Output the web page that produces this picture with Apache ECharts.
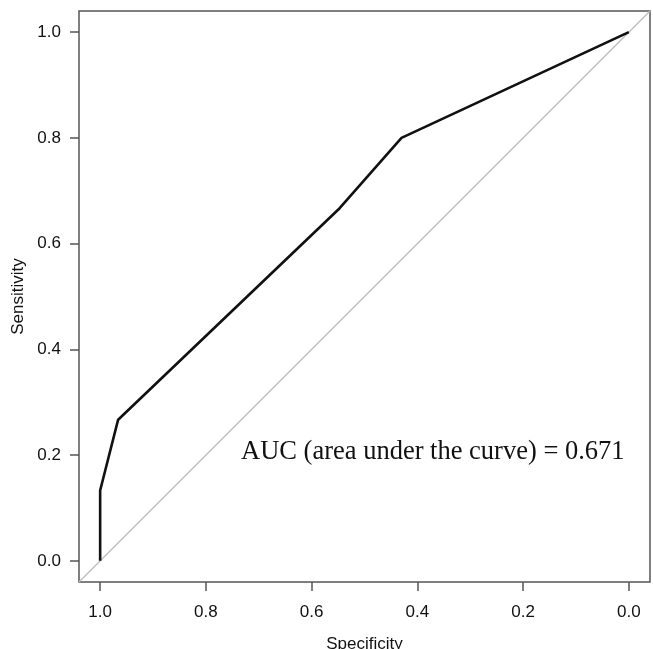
<!DOCTYPE html>
<html>
<head>
<meta charset="utf-8">
<script src="https://cdn.jsdelivr.net/npm/echarts@6/dist/echarts.min.js"></script>
<style>
  html, body { margin: 0; padding: 0; background: #fff; }
  #chart { width: 653px; height: 649px; }
</style>
</head>
<body>
<div id="chart"></div>
<script>
// ROC curve points (specificity, sensitivity)
var specificity = [1.0, 1.0, 0.966, 0.547, 0.43, 0.0];
var sensitivity = [0.0, 0.133, 0.267, 0.667, 0.8, 1.0];
// chance line
var refSpec = [1.04, -0.04];
var refSens = [-0.04, 1.04];
var ticks = [0, 0.2, 0.4, 0.6, 0.8, 1.0];
var aucText = "AUC (area under the curve) = 0.671";

var chart = echarts.init(document.getElementById("chart"));

function pairs(xs, ys) {
  return xs.map(function (x, i) { return [x, ys[i]]; });
}

var axisColor = "#555";
var labelFont = { color: "#111", fontSize: 17, fontFamily: "Liberation Sans, Arial, sans-serif" };

chart.setOption({
  animation: false,
  grid: {
    left: 79, right: 3, top: 11, bottom: 67,
    containLabel: false,
    outerBoundsMode: "none",
    show: true, borderColor: axisColor, borderWidth: 1.5,
    backgroundColor: "transparent"
  },
  xAxis: {
    type: "value",
    inverse: true,
    min: -0.04, max: 1.04,
    name: "Specificity",
    nameLocation: "middle",
    nameGap: 54,
    nameTextStyle: labelFont,
    axisLine: { show: false, onZero: false },
    splitLine: { show: false },
    axisTick: { show: true, customValues: ticks, length: 9, lineStyle: { color: axisColor, width: 1.5 } },
    axisLabel: Object.assign({ customValues: ticks, margin: 22, formatter: function (v) { return v.toFixed(1); } }, labelFont)
  },
  yAxis: {
    type: "value",
    min: -0.04, max: 1.04,
    name: "Sensitivity",
    nameLocation: "middle",
    nameGap: 46,
    nameTextStyle: labelFont,
    axisLine: { show: false, onZero: false },
    splitLine: { show: false },
    axisTick: { show: true, customValues: ticks, length: 9, lineStyle: { color: axisColor, width: 1.5 } },
    axisLabel: Object.assign({ customValues: ticks, margin: 18, formatter: function (v) { return v.toFixed(1); } }, labelFont)
  },
  series: [
    {
      type: "line",
      data: pairs(refSpec, refSens),
      symbol: "none",
      lineStyle: { color: "#bdbdbd", width: 1.2 },
      silent: true
    },
    {
      type: "line",
      data: pairs(specificity, sensitivity),
      symbol: "none",
      lineStyle: { color: "#111", width: 2.6 },
      silent: true
    }
  ],
  graphic: [
    {
      type: "text",
      left: 241,
      top: 439,
      style: {
        text: aucText,
        fill: "#111",
        font: "26.5px 'Liberation Serif', 'Times New Roman', serif"
      }
    }
  ]
});
</script>
</body>
</html>
